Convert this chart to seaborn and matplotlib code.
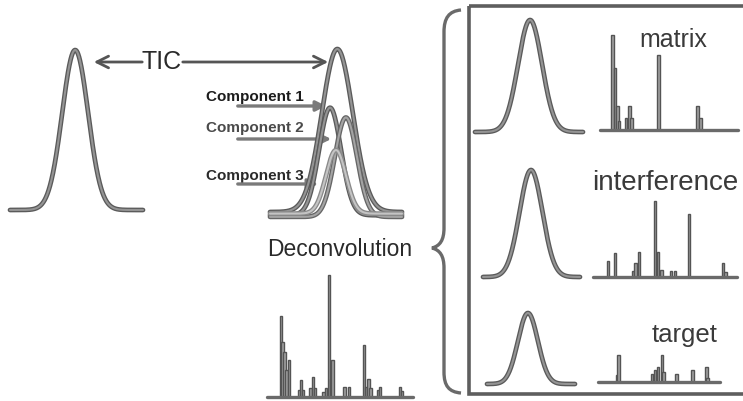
import numpy as np
import pandas as pd
import matplotlib
matplotlib.use("Agg")
import matplotlib.pyplot as plt
import matplotlib.patheffects as pe
from matplotlib.path import Path
from matplotlib.patches import PathPatch, Rectangle
import seaborn as sns

W, H = 743, 401

# ---- chromatograms: retention time (min), apex intensity (%), sigma (min)
raw_rt, raw_height, raw_sigma = 10.98, 100, 0.195

trace_names = ["TIC", "Component 1", "Component 2", "Component 3"]
trace_rt = [11.02, 10.91, 11.15, 11.00]
trace_height = [100, 66, 61, 39]
trace_sigma = [0.235, 0.167, 0.167, 0.15]
trace_offset = [0, -2, -3, -1]

panel_names = ["matrix", "interference", "target"]
panel_rt = [11.02, 10.99, 10.93]
panel_sigma = [0.222, 0.237, 0.227]

# ---- mass spectra: m/z and relative intensity (%)
decon_mz = [93, 99, 105, 111, 118, 149, 155, 161, 183, 192, 198, 223, 232,
            241, 247, 253, 290, 303, 349, 355, 364, 370, 392, 398, 460, 466]
decon_int = [66, 45, 37, 22, 30, 6, 14, 6, 7, 16, 7, 4, 7,
             100, 15, 30, 8, 8, 43, 8, 15, 7, 6, 8, 8, 5]

matrix_mz = [92, 99, 106, 112, 135, 145, 154, 242, 369, 379]
matrix_int = [100, 65, 25, 10, 13, 25, 13, 79, 25, 13]

interf_mz = [97, 119, 175, 184, 194, 244, 253, 263, 294, 306, 350, 456, 463]
interf_int = [21, 32, 8, 18, 33, 100, 33, 9, 8, 8, 83, 18, 7]

target_mz = [120, 127, 249, 260, 271, 286, 292, 340, 399, 450, 454]
target_int = [26, 100, 30, 44, 55, 100, 37, 30, 44, 55, 15]

sns.set_theme(style="white")
plt.rcParams["font.family"] = ["Liberation Sans", "DejaVu Sans"]

fig = plt.figure(figsize=(W / 100, H / 100), dpi=100)
fig.patch.set_facecolor("white")

# overlay in pixel units for labels, arrows, brace and frame
ax0 = fig.add_axes([0, 0, 1, 1])
ax0.set_xlim(0, W)
ax0.set_ylim(H, 0)
ax0.set_axis_off()

LINE = "#949494"
EDGE = "#5a5a5a"
TXT = "#2a2a2a"
rt_grid = np.linspace(10.0, 12.0, 400)


def px_axes(x0, x1, y_top, y_base, xlim, ylim=(0, 100)):
    ax = fig.add_axes([x0 / W, 1 - y_base / H, (x1 - x0) / W, (y_base - y_top) / H])
    ax.set_xlim(*xlim)
    ax.set_ylim(*ylim)
    ax.set_axis_off()
    ax.patch.set_alpha(0)
    return ax


def gauss_frame(name, rt, height, sigma, offset=0):
    y = offset + height * np.exp(-0.5 * ((rt_grid - rt) / sigma) ** 2)
    return pd.DataFrame({"rt": rt_grid, "intensity": y, "trace": name})


def style_lines(ax, cores, edges=None):
    edges = edges or [EDGE] * len(cores)
    for line, core, edge in zip(ax.get_lines(), cores, edges):
        line.set_clip_on(False)
        line.set_color(core)
        line.set_linewidth(1.5)
        line.set_path_effects([pe.Stroke(linewidth=3.4, foreground=edge), pe.Normal()])


# raw TIC on the left
ax = px_axes(10, 143, 50, 210, (10, 12))
sns.lineplot(data=gauss_frame("TIC", raw_rt, raw_height, raw_sigma),
             x="rt", y="intensity", ax=ax, sort=False)
style_lines(ax, [LINE])

# TIC with its overlapping components
ax = px_axes(270, 402, 49, 212, (10, 12))
frames = [gauss_frame(n, r, h, s, o) for n, r, h, s, o in
          zip(trace_names, trace_rt, trace_height, trace_sigma, trace_offset)]
df = pd.concat(frames, ignore_index=True)
cores = [LINE, LINE, "#a4a4a4", "#c4c4c4"]
edges = [EDGE, EDGE, "#666666", "#8a8a8a"]
sns.lineplot(data=df, x="rt", y="intensity", hue="trace", hue_order=trace_names,
             palette=cores, legend=False, ax=ax, sort=False)
style_lines(ax, cores, edges)

# deconvoluted peaks in the frame
panel_px = [(475, 583, 20, 132), (483, 580, 170, 277), (487, 575, 313, 384)]
for (x0, x1, yt, yb), name, r, s in zip(panel_px, panel_names, panel_rt, panel_sigma):
    ax = px_axes(x0, x1, yt, yb, (10, 12))
    sns.lineplot(data=gauss_frame(name, r, 100, s), x="rt", y="intensity", ax=ax, sort=False)
    style_lines(ax, [LINE])


def spectrum(x0, x1, yt, yb, mz, inten):
    ax = px_axes(x0, x1, yt, yb, (50, 500))
    bw = 450 / (x1 - x0) * 2.8
    ax.bar(mz, inten, width=bw, color="#a2a2a2", edgecolor="#545454",
           linewidth=1.0, clip_on=False)
    ax.plot([50, 500], [0, 0], color="#6a6a6a", lw=2.4, clip_on=False)
    return ax


spectrum(267, 413, 275, 397, decon_mz, decon_int)
spectrum(600, 738, 35, 130, matrix_mz, matrix_int)
spectrum(593, 737, 201, 277, interf_mz, interf_int)
spectrum(598, 720, 355, 382, target_mz, target_int)

# ---- annotations
narrow = ["Liberation Sans Narrow", "Liberation Sans", "DejaVu Sans"]
ax0.text(162, 62, "TIC", fontsize=18, family=narrow, color=TXT, ha="center", va="center")
arrow_kw = dict(arrowstyle="->,head_length=0.7,head_width=0.35", color="#555555", lw=2)
ax0.annotate("", xy=(91, 62), xytext=(145, 62), arrowprops=arrow_kw)
ax0.annotate("", xy=(331, 62), xytext=(180, 62), arrowprops=arrow_kw)

comp_text_y = [97, 128, 176]
comp_arrow_y = [106, 139, 184]
comp_tip_x = [329, 334, 321]
comp_colors = ["#1c1c1c", "#4a4a4a", "#2a2a2a"]
for name, ty, ay, tx, c in zip(trace_names[1:], comp_text_y, comp_arrow_y, comp_tip_x, comp_colors):
    ax0.text(206, ty, name, fontsize=11, family=narrow, weight="bold", color=c,
             ha="left", va="center")
    ax0.annotate("", xy=(tx, ay), xytext=(235, ay),
                 arrowprops=dict(arrowstyle="-|>,head_length=0.5,head_width=0.25",
                                 color="#7a7a7a", lw=2.4))

ax0.text(340, 250, "Deconvolution", fontsize=16.5, color=TXT, ha="center", va="center")
ax0.text(673, 40, "matrix", fontsize=18, color="#3a3a3a", ha="center", va="center")
ax0.text(592, 183, "interference", fontsize=20, color="#3a3a3a", ha="left", va="center")
ax0.text(685, 335, "target", fontsize=18.5, color="#3a3a3a", ha="center", va="center")

# curly brace
verts = [(461, 10), (449, 11), (444, 18), (444, 32),
         (444, 228),
         (444, 240), (440, 246), (432, 248),
         (440, 250), (444, 256), (444, 268),
         (444, 372),
         (444, 386), (449, 392), (461, 393)]
codes = [Path.MOVETO, Path.CURVE4, Path.CURVE4, Path.CURVE4,
         Path.LINETO,
         Path.CURVE4, Path.CURVE4, Path.CURVE4,
         Path.CURVE4, Path.CURVE4, Path.CURVE4,
         Path.LINETO,
         Path.CURVE4, Path.CURVE4, Path.CURVE4]
ax0.add_patch(PathPatch(Path(verts, codes), facecolor="none", edgecolor="#6a6a6a", lw=2.4))

# frame around the deconvoluted components
ax0.add_patch(Rectangle((469, 6), 300, 388, facecolor="none", edgecolor="#5e5e5e", lw=2.6))

fig.savefig("out.png", dpi=100, facecolor="white")
